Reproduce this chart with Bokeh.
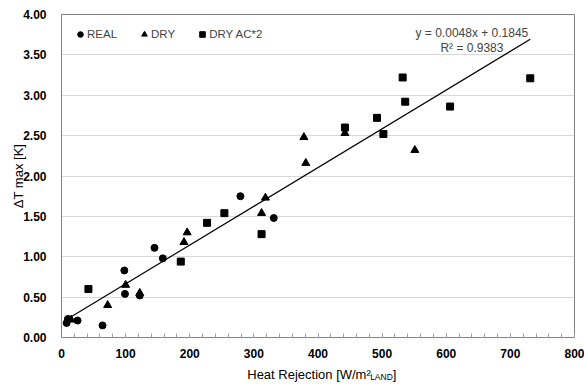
import math
from bokeh.plotting import figure
from bokeh.models import (Range1d, SingleIntervalTicker, NumeralTickFormatter, Label,
                          Legend, LegendItem, LinearAxis, FixedTicker)
from bokeh.embed import file_html
from bokeh.resources import INLINE

# ---- data ----
real_x = [8, 10, 25, 64, 98, 99, 122, 145, 158, 279, 331]
real_y = [0.18, 0.23, 0.21, 0.15, 0.83, 0.54, 0.52, 1.11, 0.98, 1.75, 1.48]

dry_x = [15, 72, 100, 122, 191, 196, 312, 318, 378, 381, 442, 551]
dry_y = [0.22, 0.40, 0.65, 0.55, 1.18, 1.30, 1.54, 1.73, 2.48, 2.16, 2.53, 2.32]

ac_x = [42, 186, 227, 254, 312, 442, 492, 502, 532, 536, 606, 731]
ac_y = [0.60, 0.94, 1.42, 1.54, 1.28, 2.60, 2.72, 2.52, 3.22, 2.92, 2.86, 3.21]

series_names = ["REAL", "DRY", "DRY AC*2"]
x_title_main = "Heat Rejection [W/m\u00b2"
x_title_sub = "LAND"
x_title_end = "]"
y_title = "\u0394T max [K]"
slope = 0.0048
intercept = 0.1845
r2 = 0.9383

FONT = "Liberation Sans"

p = figure(width=584, height=387, output_backend="svg", toolbar_location=None,
           x_range=Range1d(0, 800), y_range=Range1d(0, 4),
           min_border_left=61, min_border_right=10, min_border_top=14,
           min_border_bottom=50)
p.background_fill_color = "white"
p.border_fill_color = "white"
p.outline_line_color = "#808080"
p.outline_line_width = 1

# axes
p.xaxis.ticker = SingleIntervalTicker(interval=100, num_minor_ticks=5)
p.yaxis.ticker = SingleIntervalTicker(interval=0.5)
p.yaxis.formatter = NumeralTickFormatter(format="0.00")
for ax in (p.xaxis[0], p.yaxis[0]):
    ax.axis_line_color = "#868686"
    ax.major_label_text_font = FONT
    ax.major_label_text_font_size = "12px"
    ax.major_label_text_font_style = "bold"
    ax.major_label_text_color = "#000000"
p.xaxis.major_tick_in = 4
p.xaxis.major_tick_out = 0
p.xaxis.minor_tick_in = 4
p.xaxis.minor_tick_out = 0
p.xaxis.major_tick_line_color = "#a0a0a0"
p.xaxis.minor_tick_line_color = "#a0a0a0"
p.xaxis.major_label_standoff = 11
p.yaxis.major_tick_line_color = None
p.yaxis.minor_tick_line_color = None
p.yaxis.major_label_standoff = 9

# y-axis title
p.yaxis.axis_label = y_title
p.yaxis.axis_label_text_font = FONT
p.yaxis.axis_label_text_font_size = "13px"
p.yaxis.axis_label_text_font_style = "normal"
p.yaxis.axis_label_text_color = "black"
p.yaxis.axis_label_standoff = -6


# x-axis title with subscript: drawn as tick labels of two extra, line-less axes
def title_axis(ticks, labels, size, standoff):
    ax = LinearAxis(ticker=FixedTicker(ticks=ticks),
                    major_label_overrides=dict(zip(ticks, labels)))
    ax.axis_line_color = None
    ax.major_tick_line_color = None
    ax.minor_tick_line_color = None
    ax.major_tick_in = 0
    ax.major_tick_out = 0
    ax.major_label_standoff = standoff
    ax.major_label_text_font = FONT
    ax.major_label_text_font_size = size
    ax.major_label_text_color = "black"
    return ax


p.add_layout(title_axis([386, 519.5], [x_title_main, x_title_end], "13px", 6), "below")
p.add_layout(title_axis([499], [x_title_sub], "8.5px", -13), "below")

p.xgrid.grid_line_color = None
p.ygrid.grid_line_color = "#d9d9d9"
p.ygrid.grid_line_width = 1

# trend line from the displayed fit
all_x = real_x + dry_x + ac_x
x0, x1 = min(all_x), max(all_x)
p.line([x0, x1], [slope * x0 + intercept, slope * x1 + intercept],
       line_color="black", line_width=1.2)

r_real = p.scatter(real_x, real_y, marker="circle", size=7, color="black")
r_dry = p.scatter(dry_x, dry_y, marker="triangle", size=8, color="black")
r_ac = p.scatter(ac_x, ac_y, marker="square", size=7, color="black")

legend = Legend(items=[LegendItem(label=series_names[0], renderers=[r_real]),
                       LegendItem(label=series_names[1], renderers=[r_dry]),
                       LegendItem(label=series_names[2], renderers=[r_ac])],
                orientation="horizontal", location=(12, 296))
legend.margin = 0
legend.padding = 0
legend.spacing = 20
legend.glyph_width = 14
legend.glyph_height = 14
legend.label_height = 14
legend.label_standoff = 0
legend.label_text_font = FONT
legend.label_text_font_size = "11.5px"
legend.border_line_color = None
legend.background_fill_alpha = 0
p.add_layout(legend)

# equation text
p.add_layout(Label(x=640, y=3.777, text=f"y = {slope}x + {intercept}",
                   text_font=FONT, text_font_size="12px", text_align="center",
                   text_baseline="alphabetic"))
p.add_layout(Label(x=640, y=3.58, text=f"R\u00b2 = {r2}",
                   text_font=FONT, text_font_size="12px", text_align="center",
                   text_baseline="alphabetic"))

open("out.html", "w").write(file_html(p, INLINE))
